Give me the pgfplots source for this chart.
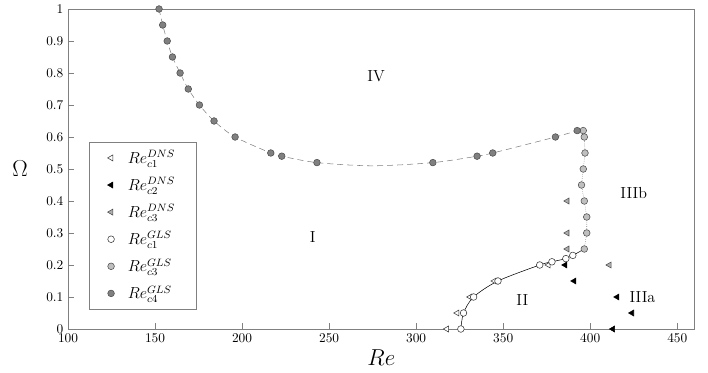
\documentclass[border=0pt]{standalone}
\usepackage{pgfplots}
\pgfplotsset{compat=1.18}
\usetikzlibrary{calc}

\definecolor{dkgrey}{gray}{0.5}
\definecolor{ltgrey}{gray}{0.75}
\definecolor{mdgrey}{gray}{0.68}

\begin{document}
\begin{tikzpicture}
\begin{axis}[
    name=ax, scale only axis, width=470pt, height=240pt,
    xmin=100, xmax=460, ymin=0, ymax=1,
    xtick={100,150,200,250,300,350,400,450},
    ytick={0,0.1,0.2,0.3,0.4,0.5,0.6,0.7,0.8,0.9,1},
    tick pos=left, tick align=inside, major tick length=4.5pt,
    axis line style={gray}, tick style={gray},
    xlabel={$Re$}, ylabel={$\Omega$},
    xlabel style={font=\fontsize{19}{22}\selectfont, yshift=1pt},
    ylabel style={rotate=-90, font=\fontsize{19}{22}\selectfont, xshift=-7pt},
    legend style={at={(0.033,0.584)}, anchor=north west, draw=gray,
        row sep=5pt, inner xsep=14pt, inner ysep=4pt, font=\large},
    legend cell align=left,
]
% lines (no legend)
\addplot[forget plot, gray, dashed, dash pattern=on 4.5pt off 3pt, smooth] coordinates {
    (152.3,1.0)(154.4,0.95)(157,0.9)(160,0.85)(164.4,0.8)(169.1,0.75)(175.5,0.7)
    (183.9,0.65)(196,0.6)(216.5,0.55)(222.8,0.54)(243,0.52)(275,0.51)(309.6,0.52)
    (335,0.54)(344,0.55)(380,0.6)(392.5,0.62)
};
\addplot[forget plot, black, thin, smooth] coordinates {
    (325.7,0)(327.2,0.05)(333,0.1)(347,0.15)(371,0.2)(378,0.21)(386,0.22)(390,0.23)(396.6,0.25)
};
\addplot[forget plot, gray, densely dotted] coordinates {
    (396.6,0.25)(398,0.3)(398,0.35)(396.6,0.4)(395,0.45)(396,0.5)(397,0.55)(396.6,0.6)(396,0.62)
};

% markers
\addplot[only marks, mark=triangle*, mark size=2.6pt,
    mark options={rotate=90, fill=white, draw=black!80}] coordinates {
    (317.6,0)(323.6,0.05)(331,0.1)(345,0.15)(376,0.2)
};
\addplot[only marks, mark=triangle*, mark size=2.6pt,
    mark options={rotate=90, fill=black, draw=black}] coordinates {
    (413,0)(424,0.05)(415.5,0.1)(390.8,0.15)(385.6,0.2)
};
\addplot[only marks, mark=triangle*, mark size=2.6pt,
    mark options={rotate=90, fill=mdgrey, draw=black!70}] coordinates {
    (386.8,0.25)(386.8,0.3)(386.8,0.4)(411,0.2)
};
\addplot[only marks, mark=*, mark size=2.5pt,
    mark options={fill=white, draw=black!80}] coordinates {
    (325.7,0)(327.2,0.05)(333,0.1)(347,0.15)(371,0.2)(378,0.21)(386,0.22)(390,0.23)
};
\addplot[only marks, mark=*, mark size=2.5pt,
    mark options={fill=ltgrey, draw=black!70}] coordinates {
    (396.6,0.25)(398,0.3)(398,0.35)(396.6,0.4)(395,0.45)(396,0.5)(397,0.55)(396.6,0.6)(396,0.62)
};
\addplot[only marks, mark=*, mark size=2.5pt,
    mark options={fill=dkgrey, draw=black!70}] coordinates {
    (152.3,1.0)(154.4,0.95)(157,0.9)(160,0.85)(164.4,0.8)(169.1,0.75)(175.5,0.7)
    (183.9,0.65)(196,0.6)(216.5,0.55)(222.8,0.54)(243,0.52)(309.6,0.52)
    (335,0.54)(344,0.55)(380,0.6)(392.5,0.62)
};
\legend{\hspace{8pt}$Re_{c1}^{DNS}$\hspace{6pt}, \hspace{8pt}$Re_{c2}^{DNS}$\hspace{6pt},
        \hspace{8pt}$Re_{c3}^{DNS}$\hspace{6pt}, \hspace{8pt}$Re_{c1}^{GLS}$\hspace{6pt},
        \hspace{8pt}$Re_{c3}^{GLS}$\hspace{6pt}, \hspace{8pt}$Re_{c4}^{GLS}$\hspace{6pt}}

\node[font=\large] at (axis cs:277,0.79) {IV};
\node[font=\large] at (axis cs:240.6,0.287) {I};
\node[font=\large] at (axis cs:361,0.09) {II};
\node[font=\large] at (axis cs:430,0.1) {IIIa};
\node[font=\large] at (axis cs:425,0.425) {IIIb};
\end{axis}
\pgfresetboundingbox
\path[use as bounding box] ($(ax.south west)+(-51pt,-33pt)$) rectangle ($(ax.north east)+(10pt,6.75pt)$);
\end{tikzpicture}
\end{document}
